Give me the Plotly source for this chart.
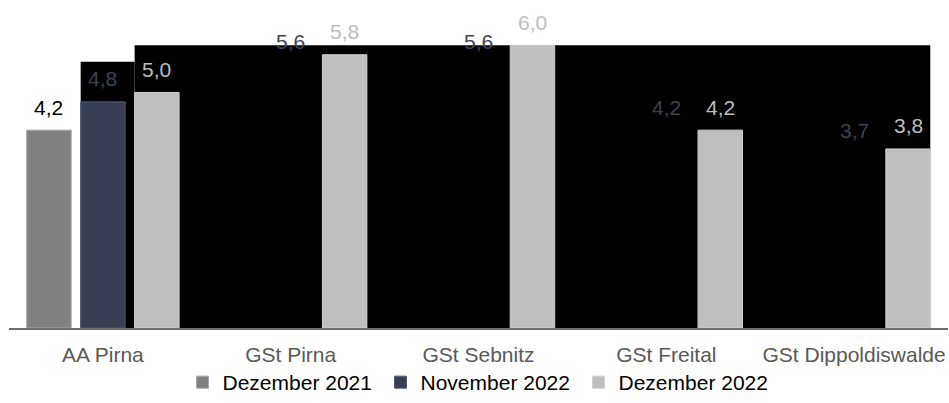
import plotly.graph_objects as go

categories = ["AA Pirna", "GSt Pirna", "GSt Sebnitz", "GSt Freital", "GSt Dippoldiswalde"]
series_names = ["Dezember 2021", "November 2022", "Dezember 2022"]
dez_2021 = [4.2, None, None, None, None]
nov_2022 = [4.8, 5.6, 5.6, 4.2, 3.7]
dez_2022 = [5.0, 5.8, 6.0, 4.2, 3.8]

# rendering artifact of the source chart (black backdrop) levels
backdrop_low = 5.65
backdrop_high = 6.0

FONT = "Liberation Sans, Arial, sans-serif"
FS = 21
bargap = 0.138
bargroupgap = 0.176
slot = (1 - bargap) / 3
bw = slot * (1 - bargroupgap)

series = [dez_2021, nov_2022, dez_2022]
bar_colors = [
    ["#808080"] * 5,
    ["#383f54"] + ["#000000"] * 4,
    ["#bfbfbf"] * 5,
]
line_colors = [
    ["#a6a6a6"] * 5,
    ["#4f5975"] + ["#000000"] * 4,
    ["#d0d0d0"] * 5,
]
label_colors = ["#000000", "#3b4259", "#bdbdbd"]

fig = go.Figure()
for k, (name, vals) in enumerate(zip(series_names, series)):
    fig.add_trace(go.Bar(
        name=name, x=categories, y=vals,
        marker=dict(color=bar_colors[k], line=dict(color=line_colors[k], width=1)),
        hoverinfo="skip",
    ))

annotations = []
for k, vals in enumerate(series):
    off = (k - 1) * slot
    for i, v in enumerate(vals):
        if v is None:
            continue
        annotations.append(dict(
            x=i + off, y=v, xref="x", yref="y",
            text=f"{v:.1f}".replace(".", ","),
            showarrow=False, yanchor="middle", yshift=23,
            font=dict(family=FONT, size=FS, color=label_colors[k]),
        ))

shapes = [
    dict(type="rect", xref="x", yref="y", layer="below",
         x0=-bw / 2, x1=slot - bw / 2, y0=0, y1=backdrop_low,
         fillcolor="#000000", line=dict(width=0)),
    dict(type="rect", xref="x", yref="y", layer="below",
         x0=slot - bw / 2, x1=len(categories) - 1 + slot + bw / 2, y0=0, y1=backdrop_high,
         fillcolor="#000000", line=dict(width=0)),
]

fig.update_layout(
    width=949, height=403,
    margin=dict(l=9, r=1, t=10, b=74),
    barmode="group", bargap=bargap, bargroupgap=bargroupgap,
    plot_bgcolor="white", paper_bgcolor="white",
    font=dict(family=FONT, size=FS, color="#595959"),
    xaxis=dict(type="category", showgrid=False, showline=True, linecolor="#6e6e6e",
               linewidth=1.5, ticks="", ticklabelstandoff=7,
               tickfont=dict(family=FONT, size=FS, color="#595959"),
               range=[-0.5, len(categories) - 0.5]),
    yaxis=dict(visible=False, range=[0, 6.75]),
    showlegend=True,
    legend=dict(orientation="h", x=0.5 + 1 / 939, xanchor="center", y=-0.169, yanchor="middle",
                font=dict(family=FONT, size=FS, color="#000000"),
                traceorder="normal", entrywidth=153, itemclick=False),
    annotations=annotations, shapes=shapes,
)

fig.write_html("out.html")
